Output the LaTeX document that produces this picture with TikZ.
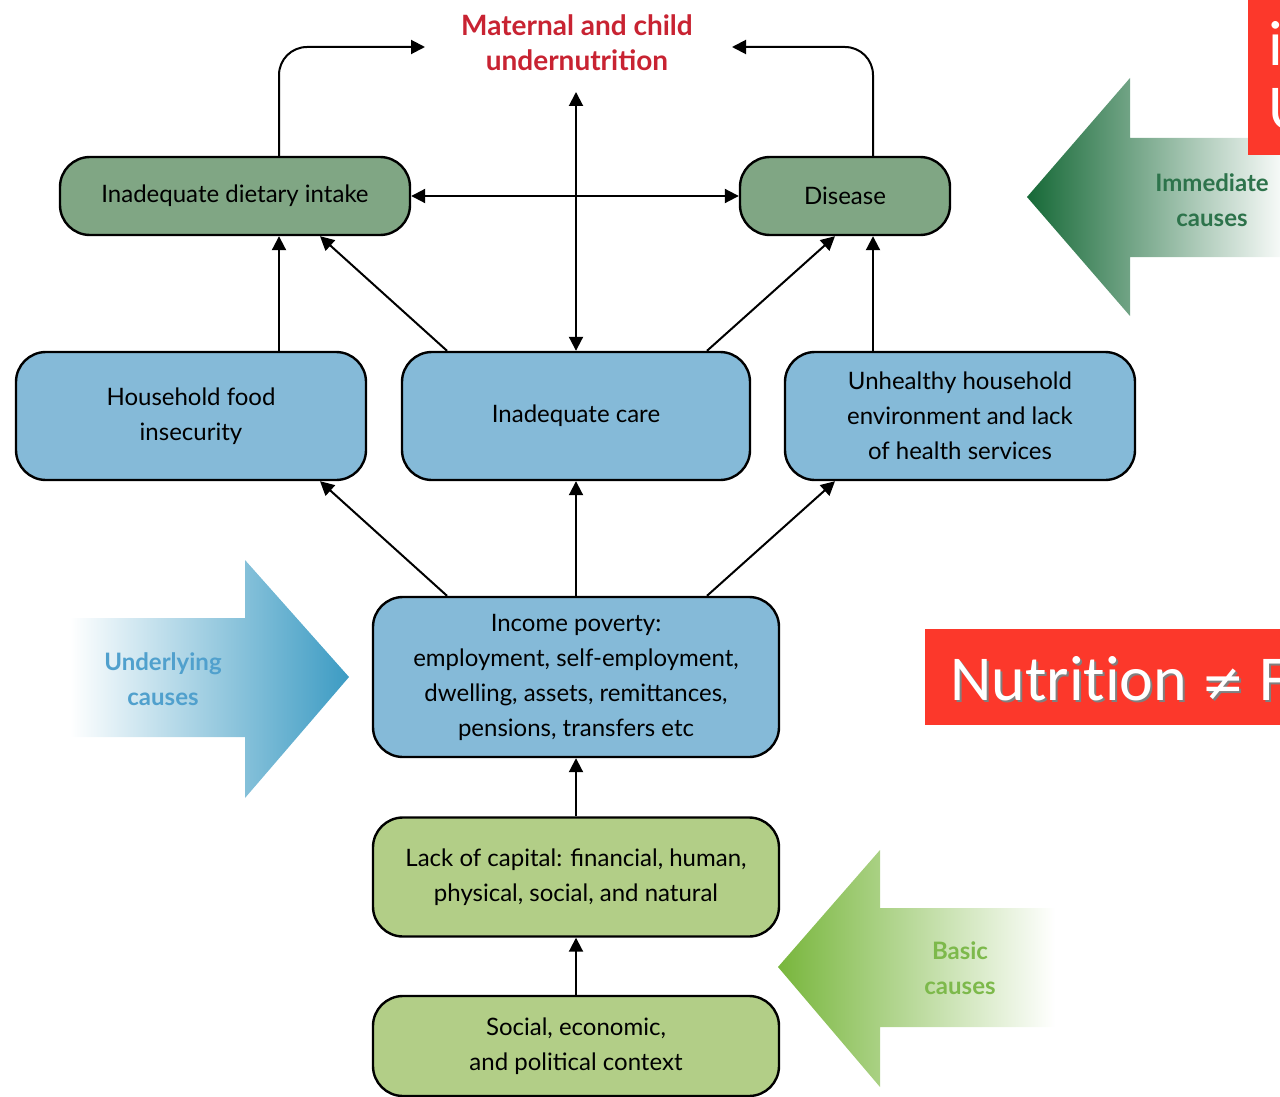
\documentclass[tikz,border=0pt]{standalone}
\usepackage{fontspec}
\setmainfont{Lato}
\newfontfamily\slidefont[Ligatures=NoCommon]{Carlito}
\newfontfamily\symbfont{DejaVu Sans}
\usetikzlibrary{arrows.meta,positioning}

\definecolor{dietgreen}{RGB}{128,166,132}
\definecolor{careblue}{RGB}{133,186,216}
\definecolor{basicgreen}{RGB}{178,206,135}
\definecolor{titlered}{RGB}{200,35,50}
\definecolor{immdark}{RGB}{22,105,55}
\definecolor{immtext}{RGB}{45,115,75}
\definecolor{undblue}{RGB}{60,155,195}
\definecolor{undtext}{RGB}{80,160,205}
\definecolor{basgreen}{RGB}{120,182,60}
\definecolor{bastext}{RGB}{125,185,75}
\definecolor{slidered}{RGB}{252,56,43}

\tikzset{
  cause/.style={draw=black, line width=1.2pt, rounded corners=15pt,
    align=center, inner sep=2pt, font=\fontsize{12}{17.5}\selectfont},
  immed/.style={cause, fill=dietgreen, minimum height=39pt},
  under/.style={cause, fill=careblue},
  basic/.style={cause, fill=basicgreen},
  conn/.style={-{Triangle[length=7pt,width=7pt]}, line width=1pt},
  both/.style={{Triangle[length=7pt,width=7pt]}-{Triangle[length=7pt,width=7pt]}, line width=1pt},
  bigtext/.style={align=center, font=\bfseries\fontsize{12}{17.5}\selectfont},
  slidetext/.style={text=white, font=\slidefont\fontsize{32}{32}\selectfont, inner sep=0pt}
}

\begin{document}
\begin{tikzpicture}[x=0.5pt, y=-0.5pt]
  \useasboundingbox (0,0) rectangle (1280,1097);
  \clip (0,0) rectangle (1280,1097);

  % big arrows behind
  \shade[left color=immdark, right color=white] (1027,197) -- (1130,78) -- (1130,138)
    -- (1290,138) -- (1290,257) -- (1130,257) -- (1130,316) -- cycle;
  \shade[left color=white, right color=undblue] (70,618) -- (245,618) -- (245,560)
    -- (349,677) -- (245,798) -- (245,737) -- (70,737) -- cycle;
  \shade[left color=basgreen, right color=white] (778,967) -- (880,850) -- (880,908)
    -- (1055,908) -- (1055,1027) -- (880,1027) -- (880,1087) -- cycle;

  \node[bigtext, text=immtext] (immlab) at (1212,200) {Immediate\\causes};
  \node[bigtext, text=undtext] (undlab) at (163,679) {Underlying\\causes};
  \node[bigtext, text=bastext] (baslab) at (960,968) {Basic\\causes};

  % outcome
  \node[align=center, text=titlered, font=\bfseries\fontsize{14}{17.5}\selectfont]
    (mcu) at (577,43) {Maternal and child\\undernutrition};
  \coordinate (tl) at (425,47);
  \coordinate (tr) at (732,47);
  \coordinate (tt) at (576,92);

  % immediate
  \node[immed, minimum width=175pt] (intake) at (235,196) {Inadequate dietary intake};
  \node[immed, minimum width=105pt] (disease) at (845,196) {Disease};

  % underlying
  \node[under, minimum width=175pt, minimum height=64pt] (hfi) at (191,416)
    {Household food\\insecurity};
  \node[under, minimum width=174pt, minimum height=64pt] (care) at (576,416)
    {Inadequate care};
  \node[under, minimum width=175pt, minimum height=64pt] (unh) at (960,416)
    {Unhealthy household\\environment and lack\\of health services};
  \node[under, minimum width=203pt, minimum height=80pt] (income) at (576,677)
    {Income poverty:\\employment, self-employment,\\dwelling, assets, remittances,\\pensions, transfers etc};

  % basic
  \node[basic, minimum width=203pt, minimum height=59.5pt] (capital) at (576,877)
    {Lack of capital: financial, human,\\physical, social, and natural};
  \node[basic, minimum width=203pt, minimum height=50pt] (context) at (576,1046)
    {Social, economic,\\and political context};

  % connectors
  \draw[conn, rounded corners=14pt] ([xshift=22pt]intake.north) |- (tl);
  \draw[conn, rounded corners=14pt] ([xshift=14pt]disease.north) |- (tr);
  \draw[both] (tt) -- (care.north);
  \draw[both] (intake.east) -- (disease.west);

  \draw[conn] ([xshift=44pt]hfi.north) -- ([xshift=22pt]intake.south);
  \draw[conn] ([xshift=-64.5pt]care.north) -- ([xshift=42.5pt]intake.south);
  \draw[conn] ([xshift=65.5pt]care.north) -- ([xshift=-5pt]disease.south);
  \draw[conn] ([xshift=-43.5pt]unh.north) -- ([xshift=14pt]disease.south);

  \draw[conn] ([xshift=-64.5pt]income.north) -- ([xshift=64.5pt]hfi.south);
  \draw[conn] (income.north) -- (care.south);
  \draw[conn] ([xshift=65.5pt]income.north) -- ([xshift=-62.5pt]unh.south);

  \draw[conn] (capital.north) -- (income.south);
  \draw[conn] (context.north) -- (capital.south);

  % slide overlays
  \fill[slidered] (1248,0) rectangle (1290,155);
  \node[slidetext, anchor=base west] (ovi) at (1268,66) {i};
  \node[slidetext, anchor=base west] (ovu) at (1268,130) {U};

  \fill[slidered] (925,629) rectangle (1290,725);
  \node[slidetext, text=gray, anchor=base west] (nfshadow) at (952,702)
    {Nutrition {\symbfont\fontsize{26}{26}\selectfont ≠} F};
  \node[slidetext, anchor=base west] (nf) at (950,700)
    {Nutrition {\symbfont\fontsize{26}{26}\selectfont ≠} F};
\end{tikzpicture}
\end{document}
